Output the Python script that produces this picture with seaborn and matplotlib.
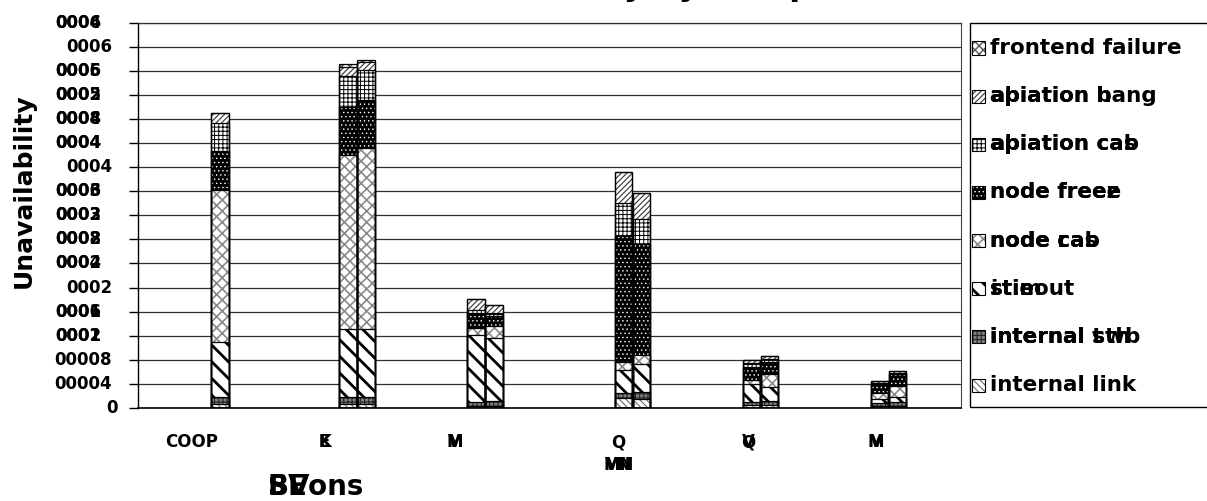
import numpy as np
import matplotlib
matplotlib.use("Agg")
import matplotlib.pyplot as plt
import matplotlib.transforms as mtransforms
from matplotlib.patches import Rectangle
import seaborn as sns

# ------------------------------------------------------------------ data --
# category tick text; the overlay string is printed on top of the first one
version_labels = ["COOP", "E", "M", "Q\nMN", "Q", "M"]
version_overlays = [None, "K", "V", "\nVN", "V", "V"]

# category of every bar and its slot inside the category
bar_group = [0, 1, 1, 2, 2, 3, 3, 4, 4, 5, 5]
bar_slot = [0, 0, 1, 0, 1, 0, 1, 0, 1, 0, 1]

# stacked components, bottom to top
internal_link = [0.00007, 0.00007, 0.00007, 0.00004, 0.00004, 0.000166, 0.00015,
                 0.00005, 0.00005, 0.000033, 0.000033]
internal_switch = [0.000105, 0.000105, 0.00012, 0.000055, 0.00007, 0.000083, 0.00011,
                   0.00005, 0.000066, 0.00005, 0.000066]
timeout = [0.00092, 0.00113, 0.00113, 0.00112, 0.00105, 0.000387, 0.000476,
           0.0003, 0.000232, 0.000066, 0.000083]
node_crash = [0.00253, 0.00289, 0.00299, 0.00011, 0.000194, 0.000122, 0.00015,
              0.000066, 0.000216, 0.0001, 0.000183]
node_freeze = [0.000636, 0.0008, 0.0008, 0.000255, 0.000166, 0.0021, 0.00183,
               0.000216, 0.0002, 0.00015, 0.0002]
application_crash = [0.00047, 0.00051, 0.0005, 0.000055, 0.000055, 0.000543, 0.000427,
                     0.000066, 0.00005, 0.000017, 0.000017]
application_hang = [0.000166, 0.00015, 0.000133, 0.000177, 0.000138, 0.000515, 0.000432,
                    0.00005, 0.00005, 0.000033, 0.000033]
frontend_failure = [0, 0.00005, 0.000033, 0, 0, 0, 0, 0, 0, 0, 0]

components = [internal_link, internal_switch, timeout, node_crash, node_freeze,
              application_crash, application_hang, frontend_failure]

# legend entries, top to bottom (overlay strings share a prefix with the label)
legend_text = ["frontend failure", "apiation hang", "apiation cab", "node freee",
               "node cab", "stieout", "internal swb", "internal link"]
legend_overlays = [[], ["ab", "apiation b"], ["ab", "apiation cas"], ["node freez"],
                   ["node r", "node cas"], ["i", "stim"], ["internal t", "internal sth"], []]

# value axis
ytick_values = [0, 0.0004, 0.0008, 0.0012, 0.0016, 0.002, 0.0024, 0.0028, 0.0032,
                0.0036, 0.004, 0.0044, 0.0048, 0.0052, 0.0056, 0.006, 0.0064]
ytick_text = ["0", "00004", "00008", "0001", "0001", "0002", "0002", "0002", "0003",
              "0003", "0004", "0004", "0004", "0005", "0005", "0006", "0006"]
ytick_overlay = [None, None, None, "0002", "0006", None, "0004", "0008", "0002",
                 "0006", None, "0004", "0008", "0002", "0006", None, "0004"]

axis_title = "Unavailability"
category_title = ["SVons", "B", "SE"]
title = "Unavailability by Component"

# ---------------------------------------------------------------- styles --
# (face, hatch colour, hatch, hatch width) for each component, bottom to top
styles = [
    ("white", "#6e6e6e", "\\\\\\\\\\", 0.8),
    ("#7d7d7d", "#262626", "++++", 0.8),
    ("white", "black", "\\\\", 2.0),
    ("white", "#8a8a8a", "xxx", 1.2),
    ("black", "white", "....", 0.5),
    ("white", "black", "++++", 0.7),
    ("white", "#333333", "//////", 0.8),
    ("white", "#555555", "xxxx", 1.0),
]

W, H, DPI = 1207, 501, 100
PLOT_L, PLOT_R, PLOT_T, PLOT_B = 138, 961, 22.6, 408
SLOT_PX = 18.0
X_MAX = (PLOT_R - PLOT_L) / SLOT_PX
BAR_W = 0.96
GROUP_STEP = 7.11
label_shift = [-1.56, -1.3, -1.2, -0.3, -0.2, -0.2]

sns.set_style("white")
plt.rcParams["font.family"] = ["DejaVu Sans"]
plt.rcParams["font.weight"] = "bold"
plt.rcParams["hatch.linewidth"] = 1.0
plt.rcParams["text.color"] = "black"
plt.rcParams["axes.labelcolor"] = "black"
plt.rcParams["xtick.color"] = "black"
plt.rcParams["ytick.color"] = "black"

fig = plt.figure(figsize=(W / DPI, H / DPI), dpi=DPI)
fig.patch.set_facecolor("white")
ax = fig.add_axes([PLOT_L / W, 1 - PLOT_B / H,
                   (PLOT_R - PLOT_L) / W, (PLOT_B - PLOT_T) / H])

group_left = [4.56 + GROUP_STEP * g + (1.1 if g >= 3 else 0.0) for g in range(len(version_labels))]
bar_pos = [group_left[g] + s for g, s in zip(bar_group, bar_slot)]
cum = np.cumsum(np.array(components), axis=0)


def paint(patch, style):
    face, hcol, hatch, hlw = style
    patch.set_facecolor(face)
    patch.set_edgecolor(hcol)
    patch.set_linewidth(0)
    patch.set_hatch(hatch)
    if hasattr(patch, "set_hatch_linewidth"):
        patch.set_hatch_linewidth(hlw)


# filled segments: tallest cumulative stack first, each lower level on top
for k in reversed(range(len(components))):
    n0 = len(ax.patches)
    with plt.rc_context({"hatch.linewidth": styles[k][3]}):
        sns.barplot(x=bar_pos, y=cum[k], native_scale=True, width=BAR_W,
                    color="white", errorbar=None, ax=ax, linewidth=0)
        for p in ax.patches[n0:]:
            paint(p, styles[k])

# black outlines of every segment
for k in range(len(components)):
    n0 = len(ax.patches)
    sns.barplot(x=bar_pos, y=cum[k], native_scale=True, width=BAR_W,
                color="black", fill=False, errorbar=None, ax=ax)
    for p in ax.patches[n0:]:
        p.set_facecolor("none")
        p.set_edgecolor("black")
        p.set_linewidth(0.9)
        p.set_hatch(None)

ax.set_xlim(0, X_MAX)
ax.set_ylim(0, 0.0064)
ax.set_xlabel("")
ax.set_ylabel("")

# grid and frame
ax.set_yticks(ytick_values)
ax.yaxis.grid(True, color="#303030", linewidth=0.9)
ax.xaxis.grid(False)
ax.set_axisbelow(True)
ax.tick_params(axis="y", which="both", direction="out", length=6.5, width=1.0,
               color="black", left=True, labelleft=False)
for side, lw, col in (("left", 1.0, "black"), ("bottom", 1.2, "black"),
                      ("top", 0.9, "#303030"), ("right", 0.8, "#444444")):
    ax.spines[side].set_visible(True)
    ax.spines[side].set_linewidth(lw)
    ax.spines[side].set_color(col)

# value-axis labels
ytrans = ax.get_yaxis_transform()
for v, txt, over in zip(ytick_values, ytick_text, ytick_overlay):
    edge = 101 if over else (118 if txt == "0" else 112)
    tr = ytrans + mtransforms.ScaledTranslation(-(PLOT_L - edge) / DPI, 0, fig.dpi_scale_trans)
    for s in [txt] + ([over] if over else []):
        ax.text(0, v, s, transform=tr, ha="right", va="center", color="black",
                fontsize=12, fontweight="bold", clip_on=False)

# category labels
tick_x = [gl + sh for gl, sh in zip(group_left, label_shift)]
ax.set_xticks(tick_x, labels=version_labels)
ax.tick_params(axis="x", length=0, pad=18, labelsize=12, labelcolor="black")
for lbl in ax.get_xticklabels():
    lbl.set_fontweight("bold")
    lbl.set_linespacing(1.35)
xtr = ax.get_xaxis_transform() + mtransforms.ScaledTranslation(0, -18 / 72, fig.dpi_scale_trans)
for x, over in zip(tick_x, version_overlays):
    if over:
        ax.text(x, 0, over, transform=xtr, ha="center", va="top", fontsize=12,
                color="black", fontweight="bold", linespacing=1.35, clip_on=False)

# axis titles and chart title
fig.text(24 / W, 1 - 191 / H, axis_title, rotation=90, ha="center", va="center",
         fontsize=18, fontweight="bold", color="black")
for s in category_title:
    fig.text(268 / W, 1 - 487 / H, s, ha="left", va="center", fontsize=20,
             fontweight="bold", color="black")
fig.text(656 / W, 1 + 4.8 / H, title, ha="center", va="baseline", fontsize=23,
         fontweight="bold", color="black")

# legend box on the right
LEG_L, LEG_T, LEG_B = 970, 23, 407
fig.add_artist(Rectangle((LEG_L / W, 1 - LEG_B / H), (W + 20 - LEG_L) / W, (LEG_B - LEG_T) / H,
                         transform=fig.transFigure, fill=False, edgecolor="black",
                         linewidth=1.0, clip_on=False))
ICON = 13
row_y = np.linspace(48, 385, len(legend_text))
for i, (txt, overs) in enumerate(zip(legend_text, legend_overlays)):
    yc = row_y[i]
    style = styles[len(styles) - 1 - i]
    box = (972 / W, 1 - (yc + ICON / 2) / H)
    icon = Rectangle(box, ICON / W, ICON / H, transform=fig.transFigure)
    paint(icon, style)
    fig.add_artist(icon)
    fig.add_artist(Rectangle(box, ICON / W, ICON / H, transform=fig.transFigure,
                             fill=False, edgecolor="black", linewidth=0.8))
    for s in [txt] + overs:
        fig.text(990 / W, 1 - yc / H, s, ha="left", va="center", color="black",
                 fontsize=15.5, fontweight="bold")

fig.savefig("out.png", dpi=DPI, facecolor="white")
